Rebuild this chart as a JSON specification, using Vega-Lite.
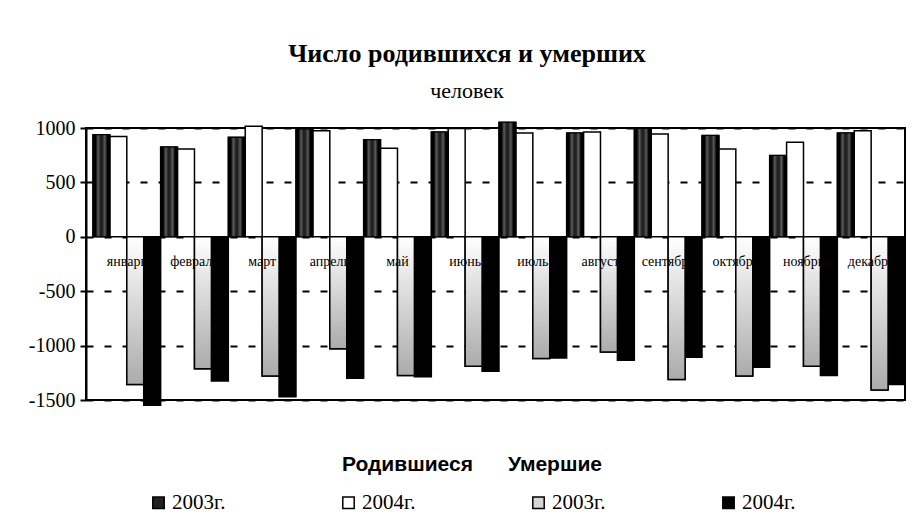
{
  "$schema": "https://vega.github.io/schema/vega-lite/v6.json",
  "width": 819,
  "height": 272,
  "autosize": {"type": "none"},
  "padding": {"left": 86, "top": 128, "right": 7, "bottom": 131},
  "background": "white",
  "title": {
    "text": "Число родившихся и умерших",
    "subtitle": "человек",
    "anchor": "middle",
    "frame": "bounds",
    "font": "Liberation Serif",
    "fontSize": 26,
    "fontWeight": "bold",
    "color": "black",
    "subtitleFont": "Liberation Serif",
    "subtitleFontSize": 22,
    "subtitleColor": "black",
    "subtitlePadding": 14,
    "offset": 16
  },
  "config": {
    "view": {"stroke": "black", "strokeWidth": 2},
    "axis": {"domainColor": "black", "tickColor": "black"}
  },
  "data": {
    "values": [
      {"month": "январь", "series": "b2003", "value": 938},
      {"month": "январь", "series": "b2004", "value": 923},
      {"month": "январь", "series": "d2003", "value": -1357},
      {"month": "январь", "series": "d2004", "value": -1549},
      {"month": "февраль", "series": "b2003", "value": 825},
      {"month": "февраль", "series": "b2004", "value": 806},
      {"month": "февраль", "series": "d2003", "value": -1213},
      {"month": "февраль", "series": "d2004", "value": -1326},
      {"month": "март", "series": "b2003", "value": 914},
      {"month": "март", "series": "b2004", "value": 1015},
      {"month": "март", "series": "d2003", "value": -1280},
      {"month": "март", "series": "d2004", "value": -1470},
      {"month": "апрель", "series": "b2003", "value": 990},
      {"month": "апрель", "series": "b2004", "value": 975},
      {"month": "апрель", "series": "d2003", "value": -1030},
      {"month": "апрель", "series": "d2004", "value": -1299},
      {"month": "май", "series": "b2003", "value": 892},
      {"month": "май", "series": "b2004", "value": 815},
      {"month": "май", "series": "d2003", "value": -1274},
      {"month": "май", "series": "d2004", "value": -1287},
      {"month": "июнь", "series": "b2003", "value": 963},
      {"month": "июнь", "series": "b2004", "value": 995},
      {"month": "июнь", "series": "d2003", "value": -1189},
      {"month": "июнь", "series": "d2004", "value": -1235},
      {"month": "июль", "series": "b2003", "value": 1052},
      {"month": "июль", "series": "b2004", "value": 954},
      {"month": "июль", "series": "d2003", "value": -1119},
      {"month": "июль", "series": "d2004", "value": -1113},
      {"month": "август", "series": "b2003", "value": 954},
      {"month": "август", "series": "b2004", "value": 963},
      {"month": "август", "series": "d2003", "value": -1058},
      {"month": "август", "series": "d2004", "value": -1134},
      {"month": "сентябрь", "series": "b2003", "value": 995},
      {"month": "сентябрь", "series": "b2004", "value": 945},
      {"month": "сентябрь", "series": "d2003", "value": -1311},
      {"month": "сентябрь", "series": "d2004", "value": -1107},
      {"month": "октябрь", "series": "b2003", "value": 932},
      {"month": "октябрь", "series": "b2004", "value": 806},
      {"month": "октябрь", "series": "d2003", "value": -1280},
      {"month": "октябрь", "series": "d2004", "value": -1198},
      {"month": "ноябрь", "series": "b2003", "value": 748},
      {"month": "ноябрь", "series": "b2004", "value": 868},
      {"month": "ноябрь", "series": "d2003", "value": -1189},
      {"month": "ноябрь", "series": "d2004", "value": -1274},
      {"month": "декабрь", "series": "b2003", "value": 954},
      {"month": "декабрь", "series": "b2004", "value": 975},
      {"month": "декабрь", "series": "d2003", "value": -1409},
      {"month": "декабрь", "series": "d2004", "value": -1357}
    ]
  },
  "encoding": {
    "x": {
      "field": "month",
      "type": "nominal",
      "sort": null,
      "scale": {"paddingInner": 0, "paddingOuter": 0.0515, "align": 1},
      "axis": null
    }
  },
  "layer": [
    {
      "mark": {"type": "bar", "stroke": "black", "strokeWidth": 1.5},
      "encoding": {
        "xOffset": {"field": "series", "type": "nominal", "scale": {"domain": ["b2003", "b2004", "d2003", "d2004"], "paddingInner": 0, "paddingOuter": 0}},
        "y": {
          "field": "value",
          "type": "quantitative",
          "scale": {"domain": [-1500, 1000], "nice": false},
          "axis": {
            "title": null,
            "values": [1000, 500, 0, -500, -1000, -1500],
            "labelExpr": "datum.value + ''",
            "labelFont": "Liberation Serif",
            "labelFontSize": 20,
            "labelColor": "black",
            "labelPadding": 5,
            "tickSize": 6,
            "tickWidth": 2,
            "domainWidth": 2,
            "grid": true,
            "gridColor": "black",
            "gridDash": [7, 11],
            "gridWidth": 2,
            "gridOpacity": 1
          }
        },
        "fill": {
          "field": "series",
          "type": "nominal",
          "scale": {"domain": ["b2003", "b2004", "d2003", "d2004"], "range": ["#222222", "#ffffff", "#d6d6d6", "#000000"]},
          "legend": {
            "orient": "none",
            "legendX": 62,
            "legendY": 326,
            "direction": "horizontal",
            "columns": 4,
            "columnPadding": 112,
            "title": "Родившиеся\u00a0\u00a0\u00a0\u00a0\u00a0\u00a0Умершие",
            "titleLimit": 600,
            "titleAnchor": "middle",
            "titleFont": "Liberation Sans",
            "titleFontSize": 21,
            "titleFontWeight": "bold",
            "titleColor": "black",
            "titlePadding": 17,
            "labelFont": "Liberation Serif",
            "labelFontSize": 21,
            "labelColor": "black",
            "labelOffset": 3,
            "labelExpr": "slice(datum.label, 1) + 'г.'",
            "symbolType": "square",
            "symbolSize": 130,
            "symbolStrokeColor": "black",
            "symbolStrokeWidth": 1.5
          }
        }
      }
    },
    {
      "transform": [{"filter": "datum.series === 'b2003'"}],
      "mark": {
        "type": "bar",
        "stroke": "black",
        "strokeWidth": 1,
        "fill": {
          "gradient": "linear",
          "x1": 0, "y1": 0, "x2": 1, "y2": 0,
          "stops": [
            {"offset": 0, "color": "#000000"},
            {"offset": 0.15, "color": "#000000"},
            {"offset": 0.3, "color": "#5a5a5a"},
            {"offset": 0.45, "color": "#202020"},
            {"offset": 0.55, "color": "#202020"},
            {"offset": 0.7, "color": "#5a5a5a"},
            {"offset": 0.85, "color": "#000000"},
            {"offset": 1, "color": "#000000"}
          ]
        }
      },
      "encoding": {
        "xOffset": {"field": "series", "type": "nominal"},
        "y": {"field": "value", "type": "quantitative"}
      }
    },
    {
      "transform": [{"filter": "datum.series === 'd2003'"}],
      "mark": {
        "type": "bar",
        "stroke": "black",
        "strokeWidth": 1.5,
        "fill": {
          "gradient": "linear",
          "x1": 0, "y1": 0, "x2": 0, "y2": 1,
          "stops": [
            {"offset": 0, "color": "#ffffff"},
            {"offset": 1, "color": "#ababab"}
          ]
        }
      },
      "encoding": {
        "xOffset": {"field": "series", "type": "nominal"},
        "y": {"field": "value", "type": "quantitative"}
      }
    },
    {
      "mark": {"type": "rule", "color": "black", "strokeWidth": 2},
      "encoding": {"y": {"datum": 0}}
    },
    {
      "transform": [{"filter": "datum.series === 'b2003'"}],
      "mark": {"type": "text", "font": "Liberation Serif", "fontSize": 14, "color": "black", "baseline": "middle", "align": "center"},
      "encoding": {
        "text": {"field": "month"},
        "y": {"datum": -232}
      }
    }
  ]
}
